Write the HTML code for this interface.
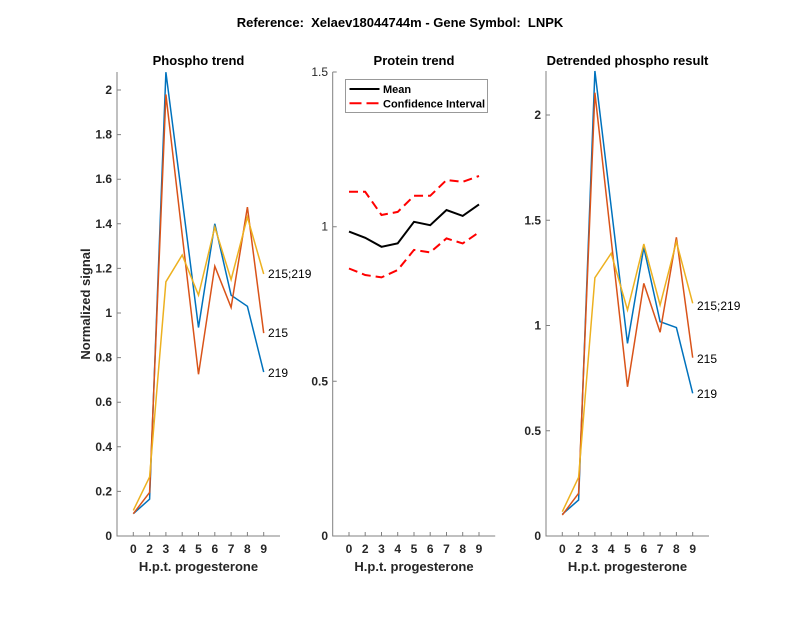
<!DOCTYPE html>
<html><head><meta charset="utf-8"><style>
html,body{margin:0;padding:0;background:#fff;}
svg{display:block;}
text{font-family:"Liberation Sans",Arial,sans-serif;fill:#262626;}
.t{font-size:12px;font-weight:bold;}
.ti{font-size:13px;font-weight:bold;fill:#000;}
.lab{font-size:13px;font-weight:bold;}
.ann{font-size:12px;fill:#000;}
.ax{stroke:#808080;stroke-width:1;fill:none;}
.s{fill:none;stroke-width:1.5;stroke-linejoin:miter;}
</style></head><body>
<svg width="800" height="618" viewBox="0 0 800 618" xmlns="http://www.w3.org/2000/svg">
<rect width="800" height="618" fill="#fff"/>
<text x="400" y="27" text-anchor="middle" class="ti" style="font-size:13px" xml:space="preserve">Reference:  Xelaev18044744m - Gene Symbol:  LNPK</text>

<!-- Panel 1 -->
<text x="198.5" y="65" text-anchor="middle" class="ti">Phospho trend</text>
<path class="ax" d="M117,72 V536 H280"/>
<g class="ax">
<path d="M117,536h4M117,491.4h4M117,446.8h4M117,402.2h4M117,357.6h4M117,313h4M117,268.4h4M117,223.8h4M117,179.2h4M117,134.6h4M117,90h4"/>
<path d="M133.3,536v-4M149.6,536v-4M165.9,536v-4M182.2,536v-4M198.5,536v-4M214.8,536v-4M231.1,536v-4M247.4,536v-4M263.7,536v-4"/>
</g>
<g class="t" text-anchor="end">
<text x="112" y="540">0</text><text x="112" y="495.4">0.2</text><text x="112" y="450.8">0.4</text><text x="112" y="406.2">0.6</text><text x="112" y="361.6">0.8</text><text x="112" y="317">1</text><text x="112" y="272.4">1.2</text><text x="112" y="227.8">1.4</text><text x="112" y="183.2">1.6</text><text x="112" y="138.6">1.8</text><text x="112" y="94">2</text>
</g>
<g class="t" text-anchor="middle">
<text x="133.3" y="553">0</text><text x="149.6" y="553">2</text><text x="165.9" y="553">3</text><text x="182.2" y="553">4</text><text x="198.5" y="553">5</text><text x="214.8" y="553">6</text><text x="231.1" y="553">7</text><text x="247.4" y="553">8</text><text x="263.7" y="553">9</text>
</g>
<text x="198.5" y="571" text-anchor="middle" class="lab">H.p.t. progesterone</text>
<text transform="translate(90,304) rotate(-90)" text-anchor="middle" class="lab">Normalized signal</text>
<polyline class="s" stroke="#0072BD" points="133.3,513.7 149.6,499.2 165.9,72.2 182.2,199.3 198.5,327.5 214.8,223.8 231.1,295.2 247.4,306.3 263.7,372.1"/>
<polyline class="s" stroke="#D95319" points="133.3,513.7 149.6,492.5 165.9,94.5 182.2,235.0 198.5,374.3 214.8,266.2 231.1,307.4 247.4,207.1 263.7,333.1"/>
<polyline class="s" stroke="#EDB120" points="133.3,510.4 149.6,476.9 165.9,281.8 182.2,255.0 198.5,295.2 214.8,227.1 231.1,279.6 247.4,217.1 263.7,274.0"/>
<text x="268" y="278" class="ann">215;219</text>
<text x="268" y="337" class="ann">215</text>
<text x="268" y="377" class="ann">219</text>

<!-- Panel 2 -->
<text x="414" y="65" text-anchor="middle" class="ti">Protein trend</text>
<path class="ax" d="M332.7,72 V536 H495.2"/>
<g class="ax">
<path d="M332.7,536h4M332.7,381.3h4M332.7,226.7h4M332.7,72h4"/>
<path d="M349,536v-4M365.2,536v-4M381.5,536v-4M397.7,536v-4M414,536v-4M430.2,536v-4M446.5,536v-4M462.7,536v-4M479,536v-4"/>
</g>
<g class="t" text-anchor="end">
<text x="328" y="540">0</text><text x="328" y="385.3">0.5</text><text x="328" y="230.7" style="font-weight:normal">1</text><text x="328" y="76" style="font-weight:normal">1.5</text>
</g>
<g class="t" text-anchor="middle">
<text x="349" y="553">0</text><text x="365.2" y="553">2</text><text x="381.5" y="553">3</text><text x="397.7" y="553">4</text><text x="414" y="553">5</text><text x="430.2" y="553">6</text><text x="446.5" y="553">7</text><text x="462.7" y="553">8</text><text x="479" y="553">9</text>
</g>
<text x="414" y="571" text-anchor="middle" class="lab">H.p.t. progesterone</text>
<polyline fill="none" stroke="#000" stroke-width="2" points="349,231.6 365.2,237.8 381.5,246.8 397.7,243.4 414,221.8 430.2,225.2 446.5,210.0 462.7,215.9 479,204.4"/>
<polyline fill="none" stroke="#FF0000" stroke-width="2" stroke-dasharray="9,5" points="349,191.8 365.2,191.8 381.5,215.0 397.7,211.9 414,195.8 430.2,195.8 446.5,180.0 462.7,181.9 479,176.0"/>
<polyline fill="none" stroke="#FF0000" stroke-width="2" stroke-dasharray="9,5" points="349,268.5 365.2,275.0 381.5,277.4 397.7,270.0 414,249.9 430.2,252.4 446.5,238.4 462.7,243.4 479,232.3"/>
<rect x="345.5" y="79.5" width="142" height="33" fill="#fff" stroke="#999" stroke-width="1"/>
<line x1="349.5" y1="89" x2="379.5" y2="89" stroke="#000" stroke-width="2"/>
<line x1="349.5" y1="103.3" x2="379.5" y2="103.3" stroke="#FF0000" stroke-width="2" stroke-dasharray="12,5"/>
<text x="383" y="93" class="t" style="fill:#000;font-size:11px">Mean</text>
<text x="383" y="107.5" class="t" style="fill:#000;font-size:11px">Confidence Interval</text>

<!-- Panel 3 -->
<text x="627.5" y="65" text-anchor="middle" class="ti">Detrended phospho result</text>
<path class="ax" d="M546,71 V536 H709"/>
<g class="ax">
<path d="M546,536h4M546,430.75h4M546,325.5h4M546,220.25h4M546,115h4"/>
<path d="M562.3,536v-4M578.6,536v-4M594.9,536v-4M611.2,536v-4M627.5,536v-4M643.8,536v-4M660.1,536v-4M676.4,536v-4M692.7,536v-4"/>
</g>
<g class="t" text-anchor="end">
<text x="541" y="540">0</text><text x="541" y="434.75">0.5</text><text x="541" y="329.5">1</text><text x="541" y="224.25">1.5</text><text x="541" y="119">2</text>
</g>
<g class="t" text-anchor="middle">
<text x="562.3" y="553">0</text><text x="578.6" y="553">2</text><text x="594.9" y="553">3</text><text x="611.2" y="553">4</text><text x="627.5" y="553">5</text><text x="643.8" y="553">6</text><text x="660.1" y="553">7</text><text x="676.4" y="553">8</text><text x="692.7" y="553">9</text>
</g>
<text x="627.5" y="571" text-anchor="middle" class="lab">H.p.t. progesterone</text>
<polyline class="s" stroke="#0072BD" points="562.3,514.3 578.6,500.0 594.9,71.0 611.2,207.2 627.5,343.4 643.8,247.4 660.1,321.7 676.4,327.6 692.7,393.3"/>
<polyline class="s" stroke="#D95319" points="562.3,515.0 578.6,493.3 594.9,92.7 611.2,239.8 627.5,386.8 643.8,283.4 660.1,332.2 676.4,237.3 692.7,357.7"/>
<polyline class="s" stroke="#EDB120" points="562.3,511.7 578.6,477.3 594.9,277.7 611.2,253.3 627.5,310.0 643.8,244.0 660.1,305.0 676.4,241.7 692.7,303.3"/>
<text x="697" y="310" class="ann">215;219</text>
<text x="697" y="363" class="ann">215</text>
<text x="697" y="398" class="ann">219</text>
</svg>
</body></html>
